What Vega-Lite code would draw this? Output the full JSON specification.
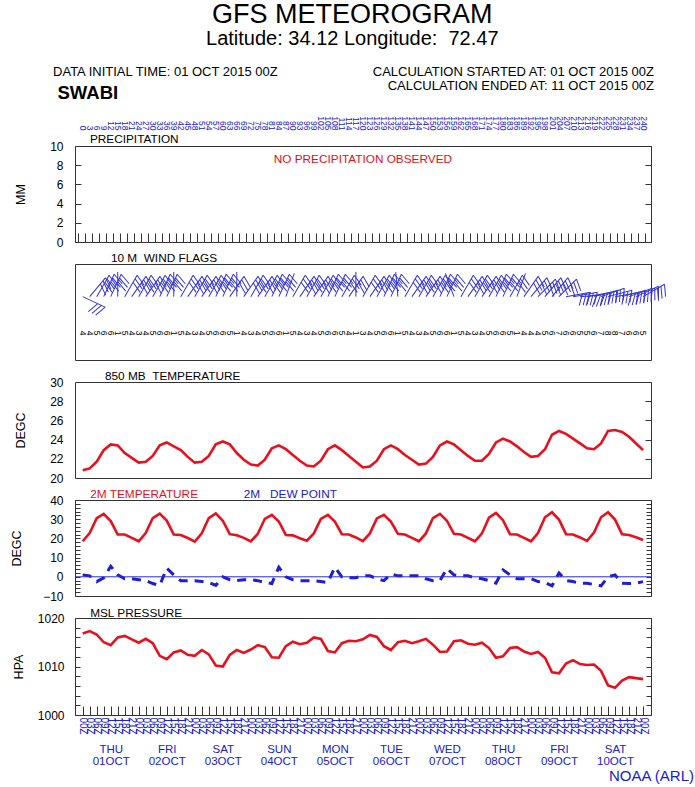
{
  "$schema": "https://vega.github.io/schema/vega-lite/v6.json",
  "background": "white",
  "padding": {"left": 10, "top": 1, "right": 0, "bottom": 3},
  "bounds": "flush",
  "spacing": 22,
  "config": {
    "font": "Liberation Sans",
    "view": {"stroke": "#333333", "strokeWidth": 1},
    "axis": {"grid": false, "domain": false, "labelFont": "Liberation Sans", "titleFont": "Liberation Sans", "titleFontWeight": "normal", "labelColor": "black", "titleColor": "black", "tickColor": "#333333"}
  },
  "title": {
    "text": "GFS METEOROGRAM",
    "subtitle": "Latitude: 34.12 Longitude: \u00a072.47",
    "anchor": "middle",
    "fontSize": 27,
    "fontWeight": "normal",
    "color": "black",
    "subtitleFont": "Liberation Sans",
    "subtitleFontSize": 20,
    "subtitleColor": "black",
    "subtitlePadding": 0,
    "offset": 15
  },
  "datasets": {
    "met": [
      {"t":0,"t850":20.8,"t2m":18.5,"td":1,"slp":1016.8,"wdir":115,"wspd":4},
      {"t":3,"t850":21.0,"t2m":22.8,"td":0.5,"slp":1017.3,"wdir":40,"wspd":4},
      {"t":6,"t850":21.7,"t2m":30.5,"td":-2.5,"slp":1016.6,"wdir":30,"wspd":5},
      {"t":9,"t850":22.9,"t2m":32.8,"td":-0.5,"slp":1015.0,"wdir":25,"wspd":6},
      {"t":12,"t850":23.5,"t2m":29.0,"td":5.5,"slp":1014.4,"wdir":25,"wspd":6},
      {"t":15,"t850":23.4,"t2m":22.0,"td":1,"slp":1016.0,"wdir":0,"wspd":1},
      {"t":18,"t850":22.6,"t2m":22.0,"td":-1,"slp":1016.3,"wdir":30,"wspd":5},
      {"t":21,"t850":22.1,"t2m":20.3,"td":-1,"slp":1015.6,"wdir":35,"wspd":4},
      {"t":24,"t850":21.6,"t2m":18.5,"td":-1.5,"slp":1014.9,"wdir":30,"wspd":3},
      {"t":27,"t850":21.7,"t2m":22.8,"td":-2,"slp":1015.7,"wdir":35,"wspd":4},
      {"t":30,"t850":22.3,"t2m":30.6,"td":-3.5,"slp":1014.8,"wdir":30,"wspd":5},
      {"t":33,"t850":23.4,"t2m":32.9,"td":-4.5,"slp":1012.2,"wdir":25,"wspd":6},
      {"t":36,"t850":23.7,"t2m":29.3,"td":4.5,"slp":1011.5,"wdir":25,"wspd":6},
      {"t":39,"t850":23.3,"t2m":22.0,"td":1,"slp":1012.9,"wdir":0,"wspd":1},
      {"t":42,"t850":22.9,"t2m":21.8,"td":-2,"slp":1013.3,"wdir":30,"wspd":5},
      {"t":45,"t850":22.2,"t2m":20.2,"td":-2,"slp":1012.4,"wdir":35,"wspd":4},
      {"t":48,"t850":21.6,"t2m":18.3,"td":-2,"slp":1012.2,"wdir":30,"wspd":3},
      {"t":51,"t850":21.7,"t2m":22.6,"td":-2.5,"slp":1013.4,"wdir":35,"wspd":4},
      {"t":54,"t850":22.3,"t2m":30.6,"td":-3,"slp":1012.5,"wdir":30,"wspd":5},
      {"t":57,"t850":23.5,"t2m":33.0,"td":-4.5,"slp":1010.2,"wdir":25,"wspd":6},
      {"t":60,"t850":23.8,"t2m":29.2,"td":0,"slp":1010.0,"wdir":25,"wspd":6},
      {"t":63,"t850":23.5,"t2m":22.2,"td":-1.5,"slp":1012.4,"wdir":35,"wspd":5},
      {"t":66,"t850":22.6,"t2m":21.6,"td":-2,"slp":1013.4,"wdir":0,"wspd":1},
      {"t":69,"t850":21.9,"t2m":20.3,"td":-1.5,"slp":1012.8,"wdir":35,"wspd":4},
      {"t":72,"t850":21.4,"t2m":18.4,"td":-1.5,"slp":1013.5,"wdir":30,"wspd":3},
      {"t":75,"t850":21.3,"t2m":22.4,"td":-2,"slp":1014.4,"wdir":35,"wspd":4},
      {"t":78,"t850":21.9,"t2m":30.2,"td":-3,"slp":1014.0,"wdir":30,"wspd":5},
      {"t":81,"t850":23.1,"t2m":32.3,"td":-3.5,"slp":1011.9,"wdir":25,"wspd":6},
      {"t":84,"t850":23.4,"t2m":28.8,"td":5,"slp":1011.8,"wdir":25,"wspd":6},
      {"t":87,"t850":23.0,"t2m":21.8,"td":0,"slp":1014.2,"wdir":20,"wspd":1},
      {"t":90,"t850":22.4,"t2m":21.6,"td":-1.5,"slp":1015.1,"wdir":30,"wspd":5},
      {"t":93,"t850":21.8,"t2m":20.1,"td":-2,"slp":1014.6,"wdir":35,"wspd":4},
      {"t":96,"t850":21.3,"t2m":18.8,"td":-2,"slp":1014.9,"wdir":30,"wspd":3},
      {"t":99,"t850":21.2,"t2m":22.6,"td":-2,"slp":1016.0,"wdir":35,"wspd":4},
      {"t":102,"t850":21.8,"t2m":30.2,"td":-2.5,"slp":1015.7,"wdir":30,"wspd":5},
      {"t":105,"t850":23.0,"t2m":32.3,"td":-3,"slp":1013.2,"wdir":25,"wspd":6},
      {"t":108,"t850":23.4,"t2m":28.8,"td":5,"slp":1012.9,"wdir":25,"wspd":6},
      {"t":111,"t850":22.9,"t2m":22.2,"td":0,"slp":1014.8,"wdir":30,"wspd":5},
      {"t":114,"t850":22.3,"t2m":22.0,"td":-0.5,"slp":1015.3,"wdir":35,"wspd":4},
      {"t":117,"t850":21.7,"t2m":20.5,"td":-0.5,"slp":1015.2,"wdir":0,"wspd":1},
      {"t":120,"t850":21.1,"t2m":18.6,"td":0.5,"slp":1015.6,"wdir":30,"wspd":3},
      {"t":123,"t850":21.2,"t2m":22.6,"td":0.5,"slp":1016.5,"wdir":35,"wspd":4},
      {"t":126,"t850":21.8,"t2m":30.4,"td":-1,"slp":1016.1,"wdir":30,"wspd":5},
      {"t":129,"t850":23.0,"t2m":32.3,"td":-2,"slp":1014.2,"wdir":25,"wspd":6},
      {"t":132,"t850":23.4,"t2m":28.8,"td":1.5,"slp":1013.4,"wdir":25,"wspd":6},
      {"t":135,"t850":23.0,"t2m":22.4,"td":0.5,"slp":1015.0,"wdir":355,"wspd":1},
      {"t":138,"t850":22.4,"t2m":22.0,"td":0.5,"slp":1015.3,"wdir":30,"wspd":5},
      {"t":141,"t850":21.9,"t2m":20.3,"td":0.5,"slp":1014.8,"wdir":35,"wspd":4},
      {"t":144,"t850":21.4,"t2m":18.5,"td":0.5,"slp":1015.2,"wdir":30,"wspd":3},
      {"t":147,"t850":21.5,"t2m":22.6,"td":-1,"slp":1015.7,"wdir":35,"wspd":4},
      {"t":150,"t850":22.2,"t2m":30.6,"td":-2,"slp":1014.5,"wdir":30,"wspd":5},
      {"t":153,"t850":23.4,"t2m":32.8,"td":-2,"slp":1013.0,"wdir":25,"wspd":6},
      {"t":156,"t850":23.8,"t2m":29.2,"td":4.3,"slp":1013.1,"wdir":25,"wspd":6},
      {"t":159,"t850":23.5,"t2m":22.4,"td":1,"slp":1015.2,"wdir":340,"wspd":1},
      {"t":162,"t850":22.9,"t2m":22.0,"td":0.5,"slp":1015.4,"wdir":30,"wspd":5},
      {"t":165,"t850":22.3,"t2m":20.3,"td":0.5,"slp":1014.7,"wdir":35,"wspd":4},
      {"t":168,"t850":21.8,"t2m":18.5,"td":-0.5,"slp":1014.5,"wdir":30,"wspd":3},
      {"t":171,"t850":21.8,"t2m":22.6,"td":-1,"slp":1014.9,"wdir":35,"wspd":4},
      {"t":174,"t850":22.5,"t2m":30.8,"td":-2,"slp":1013.8,"wdir":30,"wspd":5},
      {"t":177,"t850":23.7,"t2m":33.3,"td":-3.3,"slp":1011.8,"wdir":25,"wspd":6},
      {"t":180,"t850":24.1,"t2m":29.5,"td":3.6,"slp":1012.1,"wdir":25,"wspd":6},
      {"t":183,"t850":23.8,"t2m":22.2,"td":1,"slp":1013.8,"wdir":30,"wspd":5},
      {"t":186,"t850":23.3,"t2m":22.0,"td":-1,"slp":1014.0,"wdir":20,"wspd":1},
      {"t":189,"t850":22.7,"t2m":20.3,"td":-1,"slp":1013.1,"wdir":35,"wspd":4},
      {"t":192,"t850":22.2,"t2m":18.5,"td":-1,"slp":1012.6,"wdir":40,"wspd":4},
      {"t":195,"t850":22.3,"t2m":22.8,"td":-2.5,"slp":1013.0,"wdir":45,"wspd":4},
      {"t":198,"t850":23.0,"t2m":31.0,"td":-3,"slp":1011.8,"wdir":40,"wspd":5},
      {"t":201,"t850":24.5,"t2m":33.6,"td":-4.7,"slp":1008.8,"wdir":40,"wspd":6},
      {"t":204,"t850":24.9,"t2m":29.8,"td":2,"slp":1008.6,"wdir":45,"wspd":7},
      {"t":207,"t850":24.6,"t2m":22.2,"td":-2,"slp":1010.6,"wdir":80,"wspd":6},
      {"t":210,"t850":24.1,"t2m":22.0,"td":-2.5,"slp":1011.3,"wdir":80,"wspd":6},
      {"t":213,"t850":23.6,"t2m":20.5,"td":-3.4,"slp":1010.5,"wdir":85,"wspd":5},
      {"t":216,"t850":23.1,"t2m":18.7,"td":-3.4,"slp":1010.3,"wdir":80,"wspd":5},
      {"t":219,"t850":23.0,"t2m":23.0,"td":-4,"slp":1010.4,"wdir":75,"wspd":6},
      {"t":222,"t850":23.6,"t2m":31.0,"td":-4.7,"slp":1009.1,"wdir":70,"wspd":7},
      {"t":225,"t850":24.9,"t2m":33.6,"td":0,"slp":1006.1,"wdir":75,"wspd":8},
      {"t":228,"t850":25.0,"t2m":29.8,"td":1,"slp":1005.6,"wdir":80,"wspd":8},
      {"t":231,"t850":24.8,"t2m":22.2,"td":-3.4,"slp":1007.1,"wdir":75,"wspd":7},
      {"t":234,"t850":24.3,"t2m":21.8,"td":-3.5,"slp":1007.8,"wdir":70,"wspd":6},
      {"t":237,"t850":23.6,"t2m":20.6,"td":-3.3,"slp":1007.6,"wdir":65,"wspd":6},
      {"t":240,"t850":22.9,"t2m":19.2,"td":-2.5,"slp":1007.4,"wdir":60,"wspd":5}
    ]
  },
  "vconcat": [
    {
      "width": 576,
      "height": 59,
      "view": {"stroke": null},
      "data": {"values": [{}]},
      "layer": [
        {
          "mark": {"type": "text", "text": "DATA INITIAL TIME: 01 OCT 2015 00Z", "align": "left", "baseline": "alphabetic", "fontSize": 13, "color": "black"},
          "encoding": {
            "x": {"datum": -12.7, "type": "quantitative", "scale": {"domain": [-3.3, 243.4], "nice": false, "zero": false}, "axis": null},
            "y": {"datum": 48, "type": "quantitative", "scale": {"domain": [0, 59], "nice": false, "zero": false}, "axis": null}
          }
        },
        {
          "mark": {"type": "text", "text": "SWABI", "align": "left", "baseline": "alphabetic", "fontSize": 18.5, "fontWeight": "bold", "color": "black"},
          "encoding": {
            "x": {"datum": -10.8, "type": "quantitative", "scale": {"domain": [-3.3, 243.4], "nice": false, "zero": false}, "axis": null},
            "y": {"datum": 25, "type": "quantitative", "scale": {"domain": [0, 59], "nice": false, "zero": false}, "axis": null}
          }
        },
        {
          "mark": {"type": "text", "text": "CALCULATION STARTED AT: 01 OCT 2015 00Z", "align": "right", "baseline": "alphabetic", "fontSize": 13, "color": "black"},
          "encoding": {
            "x": {"datum": 244.7, "type": "quantitative", "scale": {"domain": [-3.3, 243.4], "nice": false, "zero": false}, "axis": null},
            "y": {"datum": 48, "type": "quantitative", "scale": {"domain": [0, 59], "nice": false, "zero": false}, "axis": null}
          }
        },
        {
          "mark": {"type": "text", "text": "CALCULATION ENDED AT: 11 OCT 2015 00Z", "align": "right", "baseline": "alphabetic", "fontSize": 13, "color": "black"},
          "encoding": {
            "x": {"datum": 244.7, "type": "quantitative", "scale": {"domain": [-3.3, 243.4], "nice": false, "zero": false}, "axis": null},
            "y": {"datum": 34, "type": "quantitative", "scale": {"domain": [0, 59], "nice": false, "zero": false}, "axis": null}
          }
        }
      ]
    },
    {
      "width": 576,
      "height": 96,
      "layer": [
        {
          "data": {"values": [{}]},
          "mark": {"type": "text", "text": "PRECIPITATION", "align": "left", "baseline": "alphabetic", "dy": -3, "fontSize": 11.8, "color": "black"},
          "encoding": {
            "x": {"datum": 3.1, "type": "quantitative", "scale": {"domain": [-3.3, 243.4], "nice": false, "zero": false},
              "axis": {"orient": "bottom", "values": [-3,0,3,6,9,12,15,18,21,24,27,30,33,36,39,42,45,48,51,54,57,60,63,66,69,72,75,78,81,84,87,90,93,96,99,102,105,108,111,114,117,120,123,126,129,132,135,138,141,144,147,150,153,156,159,162,165,168,171,174,177,180,183,186,189,192,195,198,201,204,207,210,213,216,219,222,225,228,231,234,237,240], "tickOffset": 2, "labels": false, "ticks": true, "tickSize": -9, "domain": false, "title": null}},
            "y": {"datum": 10, "type": "quantitative", "scale": {"domain": [0, 10], "nice": false, "zero": false},
              "axis": {"orient": "left", "values": [0,2,4,6,8,10], "tickSize": -6, "labelPadding": 18, "labelFontSize": 12, "domain": false, "title": "MM", "titleFontSize": 12.5, "titlePadding": 22}}
          }
        },
        {
          "data": {"values": [{}]},
          "mark": {"type": "text", "text": "NO PRECIPITATION OBSERVED", "align": "center", "baseline": "middle", "fontSize": 11.8, "color": "#e01020"},
          "encoding": {
            "x": {"datum": 120, "type": "quantitative", "scale": {"domain": [-3.3, 243.4], "nice": false, "zero": false},
              "axis": {"orient": "top", "values": [0,3,6,9,12,15,18,21,24,27,30,33,36,39,42,45,48,51,54,57,60,63,66,69,72,75,78,81,84,87,90,93,96,99,102,105,108,111,114,117,120,123,126,129,132,135,138,141,144,147,150,153,156,159,162,165,168,171,174,177,180,183,186,189,192,195,198,201,204,207,210,213,216,219,222,225,228,231,234,237,240], "labelAngle": 90, "labelFontSize": 8.5, "labelColor": "#2020c8", "ticks": false, "domain": false, "labelPadding": 2, "offset": 14, "labelOverlap": false, "labelBound": false, "labelFlush": false, "title": null}},
            "y": {"datum": 8.6, "type": "quantitative", "scale": {"domain": [0, 10], "nice": false, "zero": false},
              "axis": {"orient": "right", "values": [0,2,4,6,8,10], "labels": false, "tickSize": -6, "domain": false, "title": null}}
          }
        }
      ],
      "resolve": {"scale": {"x": "independent", "y": "independent"}}
    },
    {
      "width": 576,
      "height": 96,
      "data": {"name": "met"},
      "layer": [
        {
          "mark": {"type": "point", "filled": false, "color": "#3434d4", "strokeWidth": 1, "size": 900, "opacity": 1},
          "encoding": {
            "x": {"field": "t", "type": "quantitative", "scale": {"domain": [-3.3, 243.4], "nice": false, "zero": false}, "axis": null},
            "y": {"datum": 6.6, "type": "quantitative", "scale": {"domain": [0, 10], "nice": false, "zero": false},
              "axis": {"title": "DEGKTS", "titleFontSize": 7.5, "labels": false, "ticks": false, "domain": false, "titlePadding": 52}},
            "angle": {"field": "wdir", "type": "quantitative", "scale": null},
            "shape": {"condition": {"test": "datum.wspd < 2", "value": "M0,0L0,-1.65"}, "value": "M0,0L0,-1.65M0,-1.65L0.75,-1.3M0,-1.38L0.75,-1.03M0,-1.11L0.75,-0.76"}
          }
        },
        {
          "mark": {"type": "text", "angle": 90, "fontSize": 8.5, "color": "black"},
          "encoding": {
            "x": {"field": "t", "type": "quantitative", "scale": {"domain": [-3.3, 243.4], "nice": false, "zero": false}, "axis": null},
            "y": {"datum": 2.8, "type": "quantitative", "scale": {"domain": [0, 10], "nice": false, "zero": false}, "axis": null},
            "text": {"field": "wspd", "type": "quantitative"}
          }
        },
        {
          "data": {"values": [{}]},
          "mark": {"type": "text", "text": "10 M \u00a0WIND FLAGS", "align": "left", "baseline": "alphabetic", "dy": -2, "fontSize": 11.8, "color": "black"},
          "encoding": {
            "x": {"datum": 12.1, "type": "quantitative", "scale": {"domain": [-3.3, 243.4], "nice": false, "zero": false}, "axis": null},
            "y": {"datum": 10, "type": "quantitative", "scale": {"domain": [0, 10], "nice": false, "zero": false}, "axis": null}
          }
        }
      ]
    },
    {
      "width": 576,
      "height": 96,
      "layer": [
        {
          "data": {"name": "met"},
          "mark": {"type": "line", "color": "#e8101c", "strokeWidth": 2.6},
          "encoding": {
            "x": {"field": "t", "type": "quantitative", "scale": {"domain": [-3.3, 243.4], "nice": false, "zero": false},
              "axis": {"orient": "bottom", "values": [0,3,6,9,12,15,18,21,24,27,30,33,36,39,42,45,48,51,54,57,60,63,66,69,72,75,78,81,84,87,90,93,96,99,102,105,108,111,114,117,120,123,126,129,132,135,138,141,144,147,150,153,156,159,162,165,168,171,174,177,180,183,186,189,192,195,198,201,204,207,210,213,216,219,222,225,228,231,234,237,240], "labels": false, "ticks": true, "tickSize": -9, "domain": false, "title": null}},
            "y": {"field": "t850", "type": "quantitative", "scale": {"domain": [20, 30], "nice": false, "zero": false},
              "axis": {"orient": "left", "values": [20,22,24,26,28,30], "ticks": false, "labelPadding": 12, "labelFontSize": 12, "domain": false, "title": "DEGC", "titleFontSize": 12.5, "titlePadding": 22}}
          }
        },
        {
          "data": {"values": [{}]},
          "mark": {"type": "text", "text": "850 MB \u00a0TEMPERATURE", "align": "left", "baseline": "alphabetic", "dy": -2, "fontSize": 11.8, "color": "black"},
          "encoding": {
            "x": {"datum": 9.55, "type": "quantitative", "scale": {"domain": [-3.3, 243.4], "nice": false, "zero": false}, "axis": null},
            "y": {"datum": 30, "type": "quantitative", "scale": {"domain": [20, 30], "nice": false, "zero": false},
              "axis": {"orient": "right", "values": [20,22,24,26,28,30], "labels": false, "tickSize": -6, "domain": false, "title": null}}
          }
        }
      ],
      "resolve": {"scale": {"y": "independent"}}
    },
    {
      "width": 576,
      "height": 96,
      "layer": [
        {
          "data": {"name": "met"},
          "mark": {"type": "line", "color": "#e8101c", "strokeWidth": 2.6},
          "encoding": {
            "x": {"field": "t", "type": "quantitative", "scale": {"domain": [-3.3, 243.4], "nice": false, "zero": false},
              "axis": {"orient": "bottom", "values": [0,3,6,9,12,15,18,21,24,27,30,33,36,39,42,45,48,51,54,57,60,63,66,69,72,75,78,81,84,87,90,93,96,99,102,105,108,111,114,117,120,123,126,129,132,135,138,141,144,147,150,153,156,159,162,165,168,171,174,177,180,183,186,189,192,195,198,201,204,207,210,213,216,219,222,225,228,231,234,237,240], "labels": false, "ticks": true, "tickSize": -9, "domain": false, "title": null}},
            "y": {"field": "t2m", "type": "quantitative", "scale": {"domain": [-10, 40], "nice": false, "zero": false},
              "axis": {"orient": "left", "values": [-10,-8,-6,-4,-2,0,2,4,6,8,10,12,14,16,18,20,22,24,26,28,30,32,34,36,38,40], "labelExpr": "datum.value % 10 === 0 ? datum.label : ''", "tickSize": -5, "labelPadding": 17, "labelFontSize": 12, "labelOverlap": false, "domain": false, "title": "DEGC", "titleFontSize": 12.5, "titlePadding": 19}}
          }
        },
        {
          "data": {"name": "met"},
          "mark": {"type": "line", "color": "#1e1ed0", "strokeWidth": 3, "strokeDash": [9, 7]},
          "encoding": {
            "x": {"field": "t", "type": "quantitative", "scale": {"domain": [-3.3, 243.4], "nice": false, "zero": false}, "axis": null},
            "y": {"field": "td", "type": "quantitative", "scale": {"domain": [-10, 40], "nice": false, "zero": false},
              "axis": {"orient": "right", "values": [-10,-8,-6,-4,-2,0,2,4,6,8,10,12,14,16,18,20,22,24,26,28,30,32,34,36,38,40], "labels": false, "tickSize": -5, "domain": false, "title": null}}
          }
        },
        {
          "data": {"values": [{}]},
          "mark": {"type": "rule", "color": "#2a2ad8", "strokeWidth": 1},
          "encoding": {
            "y": {"datum": 0, "type": "quantitative", "scale": {"domain": [-10, 40], "nice": false, "zero": false}, "axis": null}
          }
        },
        {
          "data": {"values": [{}]},
          "mark": {"type": "text", "text": "2M TEMPERATURE", "align": "left", "baseline": "alphabetic", "dy": -2, "fontSize": 11.8, "color": "#e01020"},
          "encoding": {
            "x": {"datum": 3.25, "type": "quantitative", "scale": {"domain": [-3.3, 243.4], "nice": false, "zero": false}, "axis": null},
            "y": {"datum": 40, "type": "quantitative", "scale": {"domain": [-10, 40], "nice": false, "zero": false}, "axis": null}
          }
        },
        {
          "data": {"values": [{}]},
          "mark": {"type": "text", "text": "2M \u00a0 DEW POINT", "align": "left", "baseline": "alphabetic", "dy": -2, "fontSize": 11.8, "color": "#2020c8"},
          "encoding": {
            "x": {"datum": 69, "type": "quantitative", "scale": {"domain": [-3.3, 243.4], "nice": false, "zero": false}, "axis": null},
            "y": {"datum": 40, "type": "quantitative", "scale": {"domain": [-10, 40], "nice": false, "zero": false}, "axis": null}
          }
        }
      ],
      "resolve": {"scale": {"y": "independent"}}
    },
    {
      "width": 576,
      "height": 97,
      "layer": [
        {
          "data": {"name": "met"},
          "mark": {"type": "line", "color": "#e8101c", "strokeWidth": 2.6},
          "encoding": {
            "x": {"field": "t", "type": "quantitative", "scale": {"domain": [-3.3, 243.4], "nice": false, "zero": false},
              "axis": {"orient": "bottom", "values": [0,3,6,9,12,15,18,21,24,27,30,33,36,39,42,45,48,51,54,57,60,63,66,69,72,75,78,81,84,87,90,93,96,99,102,105,108,111,114,117,120,123,126,129,132,135,138,141,144,147,150,153,156,159,162,165,168,171,174,177,180,183,186,189,192,195,198,201,204,207,210,213,216,219,222,225,228,231,234,237,240], "labelExpr": "(datum.value % 24 < 10 ? '0' : '') + (datum.value % 24) + 'Z'", "labelAngle": 90, "labelFontSize": 10, "labelColor": "#2020c8", "labelOverlap": false, "labelBound": false, "labelFlush": false, "ticks": true, "tickSize": -9, "labelPadding": 11, "domain": false, "title": null}},
            "y": {"field": "slp", "type": "quantitative", "scale": {"domain": [1000, 1020], "nice": false, "zero": false},
              "axis": {"orient": "left", "values": [1000,1002,1004,1006,1008,1010,1012,1014,1016,1018,1020], "labelExpr": "datum.value % 10 === 0 ? datum.label : ''", "format": "d", "tickSize": -5, "labelPadding": 16, "labelFontSize": 12, "labelOverlap": false, "domain": false, "title": "HPA", "titleFontSize": 12.5, "titlePadding": 12}}
          }
        },
        {
          "data": {"values": [{}]},
          "mark": {"type": "text", "text": "MSL PRESSURE", "align": "left", "baseline": "alphabetic", "dy": -1, "fontSize": 11.8, "color": "black"},
          "encoding": {
            "x": {"datum": 3.2, "type": "quantitative", "scale": {"domain": [-3.3, 243.4], "nice": false, "zero": false},
              "axis": {"orient": "bottom", "values": [12,36,60,84,108,132,156,180,204,228], "labelExpr": "[['THU','FRI','SAT','SUN','MON','TUE','WED','THU','FRI','SAT'][floor(datum.value/24)], (floor(datum.value/24) < 9 ? '0' : '') + (floor(datum.value/24) + 1) + 'OCT']", "labelAngle": 0, "labelFontSize": 11.5, "labelLineHeight": 12, "labelColor": "#2020c8", "labelBaseline": "top", "labelOverlap": false, "labelBound": false, "labelFlush": false, "ticks": false, "domain": false, "offset": 26, "labelPadding": 2, "title": "NOAA (ARL)", "titleColor": "#2020c8", "titleFontSize": 15, "titleAnchor": "end", "titleAlign": "center", "titlePadding": 2}},
            "y": {"datum": 1020, "type": "quantitative", "scale": {"domain": [1000, 1020], "nice": false, "zero": false},
              "axis": {"orient": "right", "values": [1000,1002,1004,1006,1008,1010,1012,1014,1016,1018,1020], "labels": false, "tickSize": -5, "domain": false, "title": null}}
          }
        }
      ],
      "resolve": {"scale": {"x": "independent", "y": "independent"}}
    }
  ]
}
